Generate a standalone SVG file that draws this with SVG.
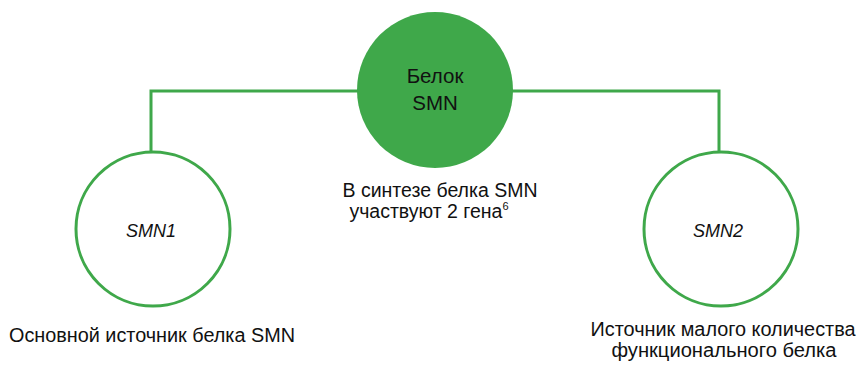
<svg xmlns="http://www.w3.org/2000/svg" width="863" height="367" viewBox="0 0 863 367">
<style>
text{font-family:"Liberation Sans","Open Sans",sans-serif;font-size:19.5px;fill:#111;text-anchor:middle}
.it{font-style:italic;font-size:18px}
.top{font-size:20.5px}
.link{fill:none;stroke:#3fa84a;stroke-width:3}
.gene{fill:#fff;stroke:#3fa84a;stroke-width:3}
</style>
<rect width="863" height="367" fill="#fff"/>
<g id="connectors">
<polyline class="link" points="151,152 151,91 719,91 719,152"/>
</g>
<g id="protein">
<circle cx="435" cy="90" r="78" fill="#3fa84a"/>
<text class="top" x="435" y="83">Белок</text>
<text class="top" x="435" y="110">SMN</text>
</g>
<g id="caption">
<text x="440" y="197" textLength="195" lengthAdjust="spacingAndGlyphs">В синтезе белка SMN</text>
<text x="429" y="218">участвуют 2 гена<tspan font-size="11" dy="-8">6</tspan></text>
</g>
<g id="smn1">
<circle class="gene" cx="153" cy="229" r="77"/>
<text class="it" x="151" y="237">SMN1</text>
<text x="152" y="342" textLength="286" lengthAdjust="spacingAndGlyphs">Основной источник белка SMN</text>
</g>
<g id="smn2">
<circle class="gene" cx="721" cy="229" r="77"/>
<text class="it" x="718" y="237">SMN2</text>
<text x="723" y="336" textLength="265" lengthAdjust="spacingAndGlyphs">Источник малого количества</text>
<text x="724" y="357" textLength="225" lengthAdjust="spacingAndGlyphs">функционального белка</text>
</g>
</svg>
